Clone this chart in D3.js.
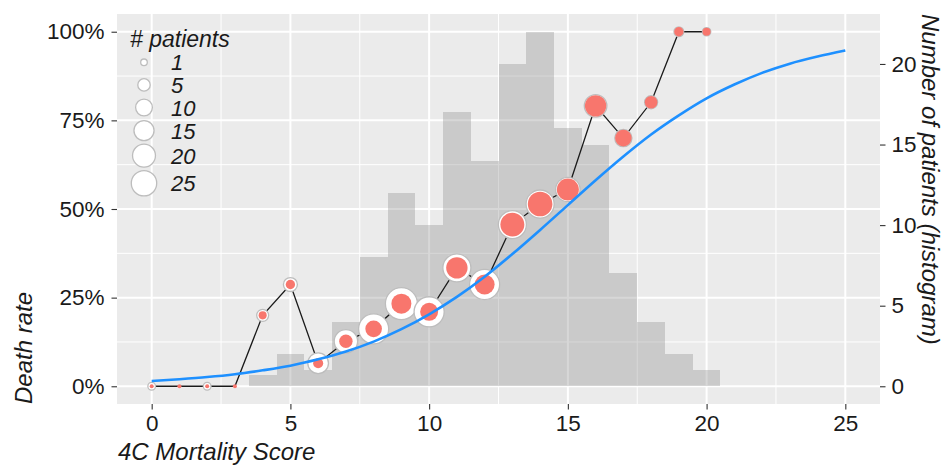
<!DOCTYPE html>
<html>
<head>
<meta charset="utf-8">
<script src="https://cdnjs.cloudflare.com/ajax/libs/d3/7.8.5/d3.min.js"></script>
<style>
  body { margin: 0; background: #fff; }
  .chart text { font-family: "Liberation Sans", Arial, Helvetica, sans-serif; fill: #1a1a1a; }
</style>
</head>
<body>
<div class="chart"></div>
<script>
// 4C score values
var scores = [0, 1, 2, 3, 4, 5, 6, 7, 8, 9, 10, 11, 12, 13, 14, 15, 16, 17, 18, 19, 20];
var deathRate = [0, 0, 0, 0, 20.0, 28.7, 6.5, 12.7, 16.2, 23.3, 21.0, 33.4, 28.7, 45.6, 51.4, 55.5, 79.1, 70.0, 80.1, 100, 100];
// size of white ring (# patients) and of red dot
var ringSize = [1.5, 0, 1.5, 0, 4.6, 6.6, 16, 21, 36, 41, 36, 31, 36, 31, 31, 23, 19.4, 10.6, 5.6, 2.8, 1.9];
var dotSize = [0.2, 0.2, 0.2, 0.2, 1.7, 2.5, 3, 6, 9.8, 14.8, 11.7, 17.2, 14.8, 22, 23.3, 18.3, 17.2, 9.8, 5.2, 2.5, 1.7];

// histogram (right axis)
var histBins = [4, 5, 6, 7, 8, 9, 10, 11, 12, 13, 14, 15, 16, 17, 18, 19, 20];
var histCounts = [0.7, 2, 1, 4, 8, 12, 10, 17, 14, 20, 22, 16, 15, 7, 4, 2, 1];

// fitted curve
var curveScore = [0, 1, 2, 3, 4, 5, 6, 7, 8, 9, 10, 11, 12, 13, 14, 15, 16, 17, 18, 19, 20, 21, 22, 23, 24, 25];
var curveRate = [1.5, 2.0, 2.6, 3.4, 4.5, 5.8, 7.6, 9.8, 12.6, 16.1, 20.3, 25.2, 30.9, 37.3, 44.1, 51.1, 58.1, 64.8, 71.0, 76.4, 81.2, 85.1, 88.4, 91.0, 93.0, 94.7];

var xTicks = [0, 5, 10, 15, 20, 25];
var yTicks = [0, 25, 50, 75, 100];
var yRightTicks = [0, 5, 10, 15, 20];
var legendSizes = [1, 5, 10, 15, 20, 25];

var svgWidth = 943;
var svgHeight = 466;

var panel = { left: 117, right: 880, top: 14, bottom: 404 };

var svg = d3.select(".chart")
  .append("svg")
  .attr("width", svgWidth)
  .attr("height", svgHeight);

var x = d3.scaleLinear().domain([-1.25, 26.25]).range([panel.left, panel.right]);
var y = d3.scaleLinear().domain([-5, 105]).range([panel.bottom, panel.top]);
var yRight = d3.scaleLinear().domain([-1.1, 23.1]).range([panel.bottom, panel.top]);
var r = d3.scaleSqrt().domain([1, 25]).range([3.3, 12.7]);

// panel background
svg.append("rect")
  .attr("x", panel.left)
  .attr("y", panel.top)
  .attr("width", panel.right - panel.left)
  .attr("height", panel.bottom - panel.top)
  .attr("fill", "#ebebeb");

var grid = svg.append("g");

// minor grid
var xMinor = xTicks.slice(0, -1).map(d => d + 2.5);
var yMinor = yTicks.slice(0, -1).map(d => d + 12.5);

grid.selectAll(".xminor").data(xMinor).enter().append("line")
  .attr("x1", d => x(d)).attr("x2", d => x(d))
  .attr("y1", panel.top).attr("y2", panel.bottom)
  .attr("stroke", "#fff").attr("stroke-width", 1);

grid.selectAll(".yminor").data(yMinor).enter().append("line")
  .attr("x1", panel.left).attr("x2", panel.right)
  .attr("y1", d => y(d)).attr("y2", d => y(d))
  .attr("stroke", "#fff").attr("stroke-width", 1);

// major grid
grid.selectAll(".xmajor").data(xTicks).enter().append("line")
  .attr("x1", d => x(d)).attr("x2", d => x(d))
  .attr("y1", panel.top).attr("y2", panel.bottom)
  .attr("stroke", "#fff").attr("stroke-width", 2);

grid.selectAll(".ymajor").data(yTicks).enter().append("line")
  .attr("x1", panel.left).attr("x2", panel.right)
  .attr("y1", d => y(d)).attr("y2", d => y(d))
  .attr("stroke", "#fff").attr("stroke-width", 2);

// histogram
svg.append("g").selectAll("rect")
  .data(histBins)
  .enter()
  .append("rect")
  .attr("x", d => x(d - 0.5))
  .attr("width", d => x(d + 0.5) - x(d - 0.5))
  .attr("y", (d, i) => yRight(histCounts[i]))
  .attr("height", (d, i) => yRight(0) - yRight(histCounts[i]))
  .attr("fill", "#8c8c8c")
  .attr("fill-opacity", 0.35)
  .attr("shape-rendering", "crispEdges");

// connecting line
var line = d3.line()
  .x(d => x(d))
  .y((d, i) => y(deathRate[i]));

svg.append("path")
  .datum(scores)
  .attr("d", line)
  .attr("fill", "none")
  .attr("stroke", "#1a1a1a")
  .attr("stroke-width", 1.3);

// white rings
svg.append("g").selectAll("circle")
  .data(scores.filter((d, i) => ringSize[i] > 0))
  .enter()
  .append("circle")
  .attr("cx", d => x(d))
  .attr("cy", d => y(deathRate[d]))
  .attr("r", d => r(ringSize[d]))
  .attr("fill", "#fff")
  .attr("stroke", "#bdbdbd")
  .attr("stroke-width", 1.3);

// red dots
svg.append("g").selectAll("circle")
  .data(scores)
  .enter()
  .append("circle")
  .attr("cx", d => x(d))
  .attr("cy", (d, i) => y(deathRate[i]))
  .attr("r", (d, i) => r(dotSize[i]))
  .attr("fill", "#F8766D");

// fitted curve
var curve = d3.line()
  .x(d => x(d))
  .y((d, i) => y(curveRate[i]))
  .curve(d3.curveMonotoneX);

svg.append("path")
  .datum(curveScore)
  .attr("d", curve)
  .attr("fill", "none")
  .attr("stroke", "#1E90FF")
  .attr("stroke-width", 2.6);

// axes
function styleAxis(g) {
  g.select(".domain").remove();
  g.selectAll(".tick line").attr("stroke", "#333").attr("stroke-width", 1.1);
  g.selectAll(".tick text").attr("font-size", "22.5px").attr("fill", "#1a1a1a");
}

svg.append("g")
  .attr("transform", `translate(${panel.left}, 0)`)
  .call(d3.axisLeft(y).tickValues(yTicks).tickFormat(d => d + "%").tickSize(5.5).tickPadding(7))
  .call(styleAxis);

svg.append("g")
  .attr("transform", `translate(${panel.right}, 0)`)
  .call(d3.axisRight(yRight).tickValues(yRightTicks).tickSize(5.5).tickPadding(6))
  .call(styleAxis);

svg.append("g")
  .attr("transform", `translate(0, ${panel.bottom})`)
  .call(d3.axisBottom(x).tickValues(xTicks).tickSize(5.5).tickPadding(6))
  .call(styleAxis);

// axis titles
svg.append("text")
  .attr("x", panel.left + 1)
  .attr("y", 460)
  .attr("font-size", "24px")
  .attr("font-style", "italic")
  .text("4C Mortality Score");

svg.append("text")
  .attr("transform", `translate(32, ${panel.bottom}) rotate(-90)`)
  .attr("font-size", "24px")
  .attr("font-style", "italic")
  .text("Death rate");

svg.append("text")
  .attr("transform", `translate(922, ${panel.top}) rotate(90)`)
  .attr("font-size", "24px")
  .attr("font-style", "italic")
  .text("Number of patients (histogram)");

// legend
var legend = svg.append("g");

legend.append("text")
  .attr("x", 130)
  .attr("y", 47)
  .attr("font-size", "23px")
  .attr("font-style", "italic")
  .text("# patients");

var ly = 51;
legendSizes.forEach(function(s) {
  var rad = r(s);
  var h = Math.max(22.6, 2 * rad + 3.5);
  var cy = ly + h / 2;
  ly += h;
  legend.append("circle")
    .attr("cx", 144)
    .attr("cy", cy)
    .attr("r", rad)
    .attr("fill", "#fff")
    .attr("stroke", "#bdbdbd")
    .attr("stroke-width", 1.3);
  legend.append("text")
    .attr("x", 171)
    .attr("y", cy + 8)
    .attr("font-size", "22px")
    .attr("font-style", "italic")
    .text(s);
});
</script>
</body>
</html>
